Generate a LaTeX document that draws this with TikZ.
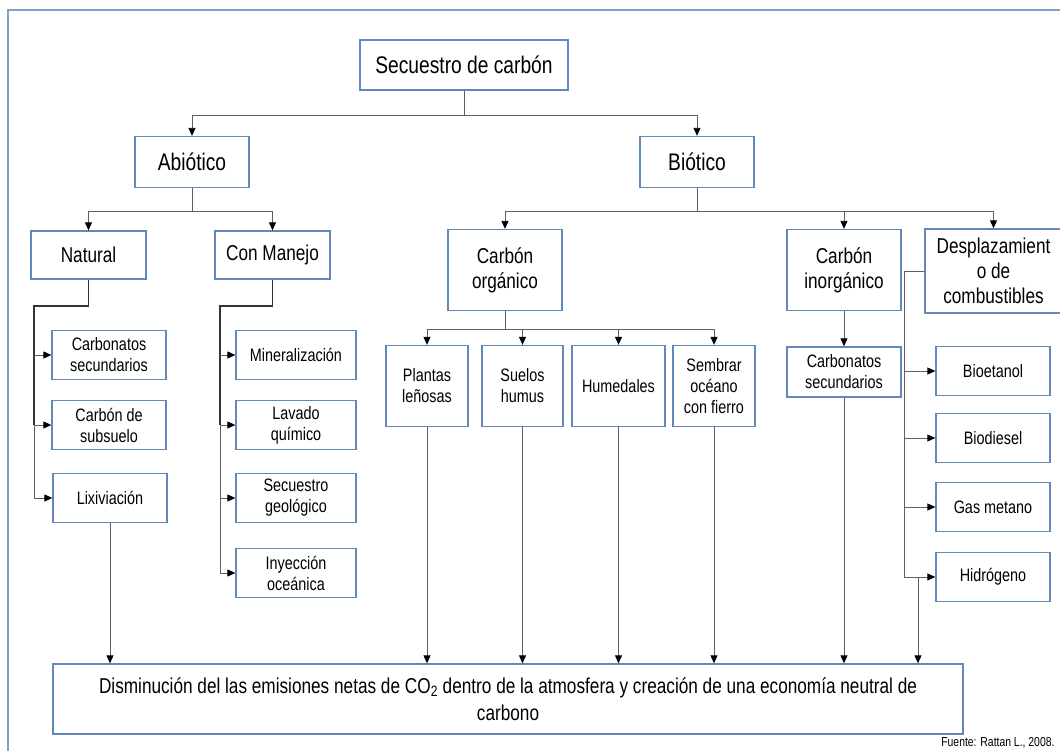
\documentclass[tikz,border=0pt]{standalone}
\usepackage{fontspec}
\setmainfont{Liberation Sans}[FakeStretch=0.8]
\usetikzlibrary{arrows.meta}
\definecolor{boxblue}{RGB}{98,136,186}
\definecolor{frameblue}{RGB}{128,160,200}
\definecolor{linegray}{RGB}{95,95,95}
\newcommand{\fsz}[2]{\fontsize{#1}{#2}\selectfont}
\begin{document}
\begin{tikzpicture}[x=1pt,y=-1pt,
  box/.style={draw=boxblue,line width=1.3pt,fill=white,align=center,inner sep=0pt},
  sz/.style 2 args={minimum width=#1pt,minimum height=#2pt},
  big/.style={font=\fsz{24}{28}},
  mid/.style={font=\fsz{21.5}{25}},
  small/.style={font=\fsz{18}{21}},
  link/.style={draw=linegray,line width=0.9pt},
  arr/.style={link,-{Triangle[length=8pt,width=7pt,color=black]}},
  trunk/.style={draw=black!80,line width=1.4pt}]
\useasboundingbox (0,0) rectangle (1060,751);
\draw[frameblue,line width=2pt] (8,751) -- (8,10) -- (1060,10);

% top levels
\node[box,big,sz={208}{50}] (root) at (464,65) {Secuestro de carbón};
\node[box,big,sz={114}{51}] (abio) at (192,162) {Abiótico};
\node[box,big,sz={114}{51}] (bio) at (697,162) {Biótico};

\node[box,mid,sz={115}{48}] (nat) at (88.5,255) {Natural};
\node[box,mid,sz={115}{48}] (man) at (272.5,255) {Con Manejo};
\node[box,mid,sz={114}{81}] (corg) at (505,270) {Carbón\\orgánico};
\node[box,mid,sz={114}{81}] (cinorg) at (844,270) {Carbón\\inorgánico};
\node[box,mid,sz={137}{84}] (desp) at (993.5,271) {Desplazamient\\o de\\combustibles};

% abiotic leaves
\node[box,small,sz={114}{49}] (cs1) at (109,355) {Carbonatos\\secundarios};
\node[box,small,sz={114}{49}] (sub) at (109,425) {Carbón de\\subsuelo};
\node[box,small,sz={114}{49}] (lix) at (110,498) {Lixiviación};
\node[box,small,sz={120}{49}] (mnr) at (296,355) {Mineralización};
\node[box,small,sz={120}{49}] (lav) at (296,425) {Lavado\\químico};
\node[box,small,sz={120}{49}] (geo) at (296,498) {Secuestro\\geológico};
\node[box,small,sz={120}{49}] (iny) at (296,573) {Inyección\\oceánica};

% biotic leaves
\node[box,small,sz={82}{81}] (pla) at (427,386) {Plantas\\leñosas};
\node[box,small,sz={81}{81}] (sue) at (522.5,386) {Suelos\\humus};
\node[box,small,sz={93}{81}] (hum) at (618.5,386) {Humedales};
\node[box,small,sz={82}{81}] (sem) at (714,386) {Sembrar\\océano\\con fierro};
\node[box,small,sz={114}{50}] (cs2) at (844,372) {Carbonatos\\secundarios};
\node[box,small,sz={114}{49}] (eta) at (993,371) {Bioetanol};
\node[box,small,sz={114}{49}] (die) at (993,438) {Biodiesel};
\node[box,small,sz={114}{49}] (gas) at (993,507) {Gas metano};
\node[box,small,sz={114}{49}] (hid) at (993,577) {Hidrógeno};

\node[box,font=\fsz{21.5}{27},sz={910}{70}] (fin) at (508,699)
  {Disminución del las emisiones netas de CO\textsubscript{2} dentro de la atmosfera y creación de una economía neutral de\\carbono};
\node[anchor=east,font=\fsz{13}{15}] (src) at (1058,743) {Fuente: Rattan L., 2008.};

% tree connectors
\draw[arr] (root.south) -- ++(0,25) -| (abio.north);
\draw[arr] (root.south) -- ++(0,25) -| (bio.north);
\draw[arr] (abio.south) -- ++(0,23) -| (nat.north);
\draw[arr] (abio.south) -- ++(0,23) -| (man.north);
\foreach \n in {corg,cinorg,desp}
  \draw[arr] (bio.south) -- ++(0,23) -| (\n.north);
\foreach \n in {pla,sue,hum,sem}
  \draw[arr] (corg.south) -- ++(0,18) -| (\n.north);
\draw[arr] (cinorg.south) -- (cs2.north);

% side buses
\coordinate (nbus) at (34,306);
\coordinate (mbus) at (220,306);
\coordinate (dbus) at (904,271);
\draw[trunk] (nat.south) |- (nbus) -- (nbus |- sub.west);
\draw[link] (nbus |- sub.west) -- (nbus |- lix.west);
\draw[trunk] (man.south) |- (mbus) -- (mbus |- lav.west);
\draw[link] (mbus |- lav.west) -- (mbus |- iny.west);
\draw[link] (desp.west) -- (dbus) -- (dbus |- hid.west);
\foreach \n in {cs1,sub,lix}
  \draw[arr] (nbus |- \n.west) -- (\n.west);
\foreach \n in {mnr,lav,geo,iny}
  \draw[arr] (mbus |- \n.west) -- (\n.west);
\foreach \n in {eta,die,gas,hid}
  \draw[arr] (dbus |- \n.west) -- (\n.west);

% down to the result
\coordinate (hb) at (918,577);
\foreach \n in {lix,pla,sue,hum,sem,cs2,hb}
  \draw[arr] (\n.south) -- (\n.south |- fin.north);
\end{tikzpicture}
\end{document}
